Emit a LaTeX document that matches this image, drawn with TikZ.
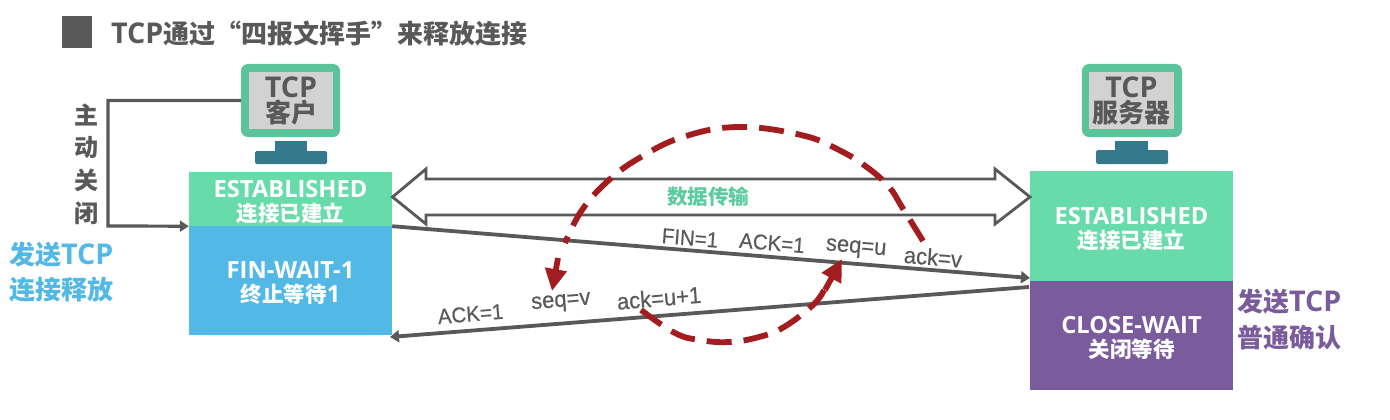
\documentclass[tikz,border=0pt]{standalone}
\usepackage{fontspec}
\usetikzlibrary{arrows.meta,calc}
\setmainfont{Noto Sans CJK SC}
\newfontfamily\latf[Scale=1.1]{Open Sans}
\newfontfamily\armf[FakeBold=0.35]{Liberation Sans}
\newcommand{\lat}[1]{{\latf\bfseries #1}}
\newcommand{\toppad}{\rule{0pt}{23pt}}
\definecolor{inkgray}{HTML}{595959}
\definecolor{mongreen}{HTML}{5CC49A}
\definecolor{boxgreen}{HTML}{67DBAA}
\definecolor{boxblue}{HTML}{52B9E6}
\definecolor{boxpurple}{HTML}{7A5C9C}
\definecolor{screengray}{HTML}{D2D2D2}
\definecolor{standblue}{HTML}{37798C}
\definecolor{dashred}{HTML}{A31D20}
\definecolor{labelgreen}{HTML}{5CCBA0}
\tikzset{
  x=1pt,y=-1pt,
  statebox/.style={draw=none,inner sep=0pt,text=white,align=center,font=\fontsize{21.5}{24}\selectfont\bfseries},
  monitor/.style={draw=none,fill=mongreen,rounded corners=7pt,inner sep=0pt,minimum height=73pt},
  screenbox/.style={draw=none,fill=screengray,inner sep=0pt,minimum height=56pt,text=inkgray,align=center,font=\fontsize{26}{25}\selectfont\bfseries},
  standpart/.style={draw=none,fill=standblue,inner sep=0pt},
  conn/.style={draw=inkgray,line width=3.2pt,-{Triangle[length=9pt,width=11pt]}},
  msgline/.style={draw=inkgray,line width=3.8pt,-{Triangle[length=9pt,width=12pt]}},
  hollow/.style={draw=inkgray,line width=2.8pt,fill=white,line join=miter},
  redarc/.style={draw=dashred,line width=5.8pt,dash pattern=on 25pt off 12pt},
  redtip/.style={draw=dashred,line width=5.8pt,-{Triangle[length=22pt,width=21pt]}},
  msg/.style={inner sep=0pt,text=inkgray,yscale=1.05,font=\armf\fontsize{20.5}{24}\selectfont},
  msgwide/.style={msg,font=\armf\fontsize{22}{24}\selectfont},
  sidetext/.style={inner sep=0pt,align=left,font=\fontsize{26}{36}\selectfont\bfseries},
  vtext/.style={inner sep=0pt,text=inkgray,font=\fontsize{24}{24}\selectfont\bfseries}
}
\begin{document}
\begin{tikzpicture}
\useasboundingbox[fill=white] (0,0) rectangle (1390,420);
% title
\node[draw=none,fill=inkgray,inner sep=0pt,minimum width=29.5pt,minimum height=32pt] (sq) at (77,32.5) {};
\node[anchor=west,inner sep=0pt,text=inkgray,font=\fontsize{26}{30}\selectfont\bfseries] (title) at (111,34) {\lat{TCP}通过“四报文挥手”来释放连接};
% client monitor
\node[monitor,minimum width=99pt] (cMon) at (290.5,100.5) {};
\node[screenbox,minimum width=84pt] (cScreen) at (291,100.5) {\lat{TCP}\\客户};
\node[standpart,minimum width=32pt,minimum height=11pt] (cStand) at (291,146) {};
\node[standpart,minimum width=72pt,minimum height=13pt,rounded corners=1.5pt] (cBase) at (291,157.5) {};
% server monitor
\node[monitor,minimum width=100pt] (sMon) at (1132,100.5) {};
\node[screenbox,minimum width=85pt] (sScreen) at (1131.5,100.5) {\lat{TCP}\\服务器};
\node[standpart,minimum width=33pt,minimum height=10pt] (sStand) at (1131.5,145.5) {};
\node[standpart,minimum width=72pt,minimum height=14pt,rounded corners=1.5pt] (sBase) at (1132,157) {};
% state boxes
\node[statebox,fill=boxgreen,minimum width=203pt,minimum height=54pt] (cEst) at (290.5,199) {\toppad\lat{ESTABLISHED}\\连接已建立};
\node[statebox,fill=boxblue,minimum width=203pt,minimum height=109pt] (cFin) at (290.5,280.5) {\toppad\lat{FIN-WAIT-1}\\终止等待\lat{1}};
\node[statebox,fill=boxgreen,minimum width=203pt,minimum height=110pt] (sEst) at (1131.5,226) {\toppad\lat{ESTABLISHED}\\连接已建立};
\node[statebox,fill=boxpurple,minimum width=203pt,minimum height=109pt] (sClose) at (1131.5,335.5) {\toppad\lat{CLOSE-WAIT}\\关闭等待};
% side labels
\node[sidetext,text=boxblue,anchor=west] (sendFin) at (9,272) {发送\lat{TCP}\\[-1pt]连接释放};
\node[sidetext,text=boxpurple,anchor=west] (sendAck) at (1237,320) {发送\lat{TCP}\\普通确认};
\node[vtext] (v1) at (86,115) {主};
\node[vtext] (v2) at (86,148) {动};
\node[vtext] (v3) at (86,180) {关};
\node[vtext] (v4) at (86,213) {闭};
% active close connector
\coordinate (turn) at (108,226);
\draw[conn] (cMon.west) -| (turn) -- (cEst.south west);
% data transfer double arrow
\coordinate (dL) at (392.5,197);
\coordinate (dR) at (1030,197);
\draw[hollow] (dL) -- (426,169) -- (426,179) -- (995,179) -- (995,169) -- (dR)
  -- (995,224) -- (995,215) -- (426,215) -- (426,224) -- cycle;
\node[inner sep=0pt,text=labelgreen,font=\fontsize{20.5}{24}\selectfont\bfseries] (data) at (708,197) {数据传输};
% message arrows
\coordinate (finEnd) at (1030,278);
\coordinate (ackStart) at (1029,287);
\coordinate (ackEnd) at (390,337);
\draw[msgline] (cEst.south east) -- (finEnd);
\draw[msgline] (ackStart) -- (ackEnd);
% message labels
\node[msg,rotate=-4.6] (m1) at (690,238) {FIN=1};
\node[msg,rotate=-4.6] (m2) at (772,243) {ACK=1};
\node[msgwide,rotate=-4.6] (m3) at (856,249) {seq=u};
\node[msgwide,rotate=-4.6] (m4) at (933,257) {ack=v};
\node[msg,rotate=4.6] (m5) at (470.5,314) {ACK=1};
\node[msgwide,rotate=4.6] (m6) at (561,303) {seq=v};
\node[msgwide,rotate=4.6] (m7) at (659,298) {ack=u+1};
% dashed circle arcs
\coordinate (arcTipA) at (552,291);
\coordinate (arcTipB) at (842,259);
\draw[redarc] plot[smooth,tension=0.7] coordinates {(923,241) (902,207) (889,187) (868,168) (839,150) (801,135) (738,127) (683,137) (641,157) (609,180) (582,210) (565,243)};
\draw[redtip] (558,258) -- (arcTipA);
\draw[redarc] plot[smooth,tension=0.7] coordinates {(641,310) (675,333) (700,340) (729,342) (759,337) (784,327) (813,305) (824,290)};
\draw[redtip] (825,290) -- (arcTipB);
\end{tikzpicture}
\end{document}
